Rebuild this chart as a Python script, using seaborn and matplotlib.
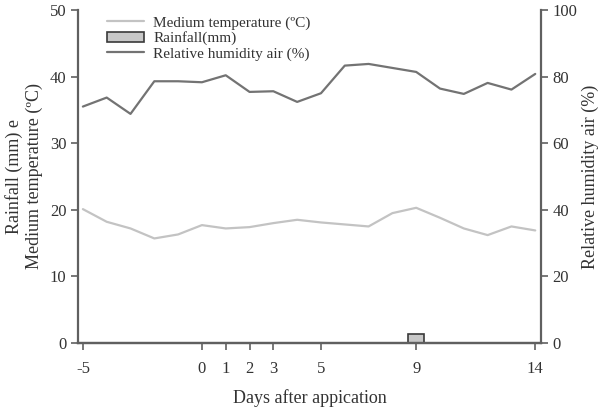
import matplotlib
matplotlib.use("Agg")
import matplotlib.pyplot as plt
import seaborn as sns
import pandas as pd
from matplotlib.patches import Patch
from matplotlib.lines import Line2D

days = list(range(-5, 15))
temperature = [20.1, 18.2, 17.2, 15.7, 16.3, 17.7, 17.2, 17.4, 18.0, 18.5,
               18.1, 17.8, 17.5, 19.5, 20.3, 18.8, 17.2, 16.2, 17.5, 16.9]
humidity = [71.0, 73.7, 68.8, 78.6, 78.6, 78.3, 80.4, 75.4, 75.6, 72.4,
            75.0, 83.3, 83.8, 82.6, 81.4, 76.4, 74.8, 78.1, 76.1, 80.8]
rain_days = [9]
rainfall = [1.4]
xticks = [-5, 0, 1, 2, 3, 5, 9, 14]

sns.set_theme(style="ticks")
plt.rcParams['font.family'] = ['Liberation Serif', 'DejaVu Serif']
txt = "#333333"
spc = "#606060"
plt.rcParams.update({'text.color': txt, 'axes.labelcolor': txt,
                     'xtick.color': spc, 'ytick.color': spc,
                     'xtick.labelcolor': txt, 'ytick.labelcolor': txt})

fig = plt.figure(figsize=(6.01, 4.13), dpi=100)
ax = fig.add_axes([0.13, 0.1695, 0.7697, 0.8063])
ax2 = ax.twinx()

df = pd.DataFrame({'day': days, 'temp': temperature, 'rh': humidity})
rdf = pd.DataFrame({'day': rain_days, 'rain': rainfall})

sns.barplot(data=rdf, x='day', y='rain', native_scale=True, width=0.67,
            color="#c8c8c8", edgecolor="#3a3a3a", linewidth=1.2, ax=ax, saturation=1)
sns.lineplot(data=df, x='day', y='temp', color="#c3c3c3", linewidth=1.6, ax=ax)
sns.lineplot(data=df, x='day', y='rh', color="#737373", linewidth=1.6, ax=ax2)

for a in (ax, ax2):
    a.set_xlim(-5.2, 14.23)
    a.spines['top'].set_visible(False)
    for s in ('left', 'right', 'bottom'):
        a.spines[s].set_color(spc)
        a.spines[s].set_linewidth(1.6)
    a.tick_params(length=5, width=1.2, labelsize=12)
ax.set_ylim(0, 50)
ax2.set_ylim(0, 100)
ax.set_yticks([0, 10, 20, 30, 40, 50])
ax2.set_yticks([0, 20, 40, 60, 80, 100])
ax.set_xticks(xticks)
ax.set_xticklabels([str(t) for t in xticks])
ax.tick_params(axis='x', pad=8)
ax.spines['right'].set_visible(False)
ax2.spines['left'].set_visible(False)

ax.set_xlabel("Days after appication", fontsize=13, labelpad=9)
ax.set_ylabel("Rainfall (mm) e\nMedium temperature (ºC)", fontsize=13, labelpad=5)
ax2.set_ylabel("Relative humidity air (%)", fontsize=13, labelpad=3)

handles = [Line2D([], [], color="#c3c3c3", lw=1.6),
           Patch(facecolor="#c8c8c8", edgecolor="#3a3a3a", linewidth=1.2),
           Line2D([], [], color="#737373", lw=1.6)]
labels = ["Medium temperature (ºC)", "Rainfall(mm)", "Relative humidity air (%)"]
ax2.legend(handles, labels, loc='upper left', bbox_to_anchor=(0.05, 1.0),
           frameon=False, fontsize=11, handlelength=2.4, handletextpad=0.6,
           labelspacing=0.1, borderaxespad=0)

fig.savefig("out.png", dpi=100)
